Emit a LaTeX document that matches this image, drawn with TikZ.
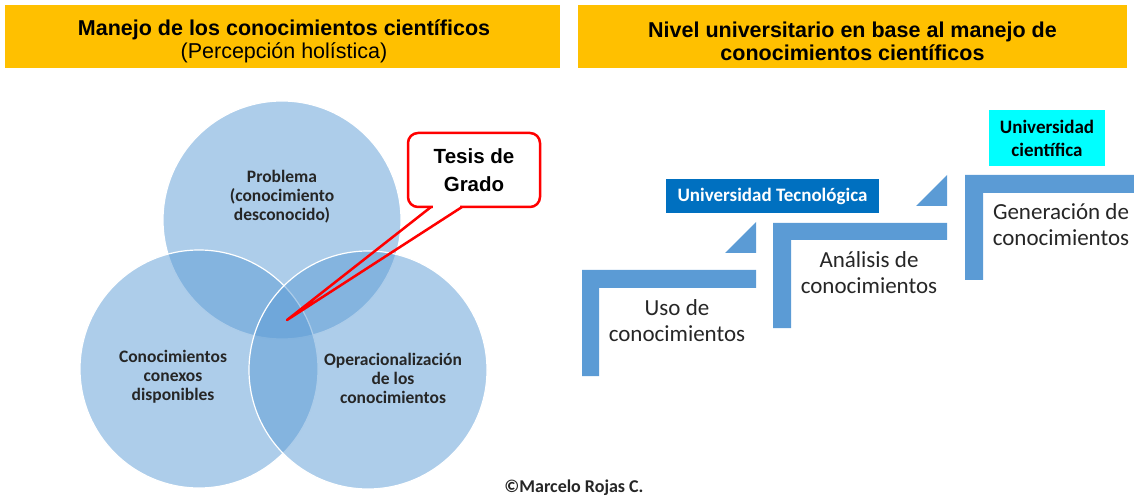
\documentclass[tikz,border=0pt]{standalone}
\usepackage{fontspec}
\setmainfont{Liberation Sans}
\newfontfamily\calfont{Carlito}
\usetikzlibrary{calc}
\definecolor{gold}{HTML}{FFC000}
\definecolor{vennblue}{HTML}{5B9BD5}
\definecolor{stairblue}{HTML}{5B9BD5}
\definecolor{utblue}{HTML}{0070C0}
\definecolor{ucyan}{HTML}{00FFFF}
\definecolor{txt}{HTML}{262626}
\begin{document}
\begin{tikzpicture}[x=1pt,y=-1pt,
  titlebar/.style={fill=gold, minimum height=63pt, inner sep=0pt, outer sep=0pt},
  titletext/.style={inner sep=0pt, align=center, font=\fontsize{21.5}{23}\selectfont},
  venn/.style={circle, minimum size=238pt, inner sep=0pt, fill=vennblue, fill opacity=0.5, draw=white, draw opacity=1, line width=1.2pt},
  venntext/.style={align=center, inner sep=0pt, font=\calfont\bfseries\fontsize{17.5}{19}\selectfont, text=txt},
  stairshape/.style={fill=stairblue},
  steptext/.style={align=center, inner sep=0pt, font=\calfont\fontsize{23}{26}\selectfont, text=txt},
  labelbox/.style={inner sep=0pt, outer sep=0pt, align=center, font=\calfont\bfseries\fontsize{19}{23}\selectfont},
  calloutline/.style={draw=red, line width=2.5pt, line join=round, line cap=round}
]
\useasboundingbox (0,0) rectangle (1134,502);

% title bars
\node[titlebar, minimum width=555pt] (t1) at (282.5,36.5) {};
\node[titlebar, minimum width=549pt] (t2) at (852.5,36.5) {};
\node[titletext] (t1text) at (284,41)
  {\textbf{Manejo de los conocimientos científicos}\\(Percepción holística)};
\node[titletext] (t2text) at (852.5,41)
  {\textbf{Nivel universitario en base al manejo de}\\\textbf{conocimientos científicos}};

% Venn diagram
\node[venn] (ctop) at (282,220) {};
\node[venn] (cleft) at (199,369) {};
\node[venn] (cright) at (368,370) {};

\node[venntext] (ptop) at (282,197) {Problema\\(conocimiento\\desconocido)};
\node[venntext] (pleft) at (173,377) {Conocimientos\\conexos\\disponibles};
\node[venntext] (pright) at (393,378) {Operacionalización\\de los\\conocimientos};

% callout
\node[draw=red, line width=2.5pt, rounded corners=10pt, minimum width=132pt, minimum height=74pt,
      inner sep=0pt, outer sep=0pt, align=center, font=\bfseries\fontsize{20.5}{28}\selectfont] (tesis) at (474,170)
  {Tesis de\\Grado};
\coordinate (tip) at (287,320);
\coordinate (pa) at ($(tesis.south west)+(23,0)$);
\coordinate (pb) at ($(tesis.south west)+(54,0)$);
\draw[white, line width=3.5pt] ($(pa)+(2,0)$) -- ($(pb)+(-2,0)$);
\draw[calloutline] (pa) -- (tip) -- (pb);

% stairs
\fill[stairshape] (582,270) -- (756,270) -- (756,288) -- (599,288) -- (599,376) -- (582,376) -- cycle;
\fill[stairshape] (773,223) -- (947,223) -- (947,240) -- (791,240) -- (791,328) -- (773,328) -- cycle;
\fill[stairshape] (965,175) -- (1134,175) -- (1134,193) -- (983,193) -- (983,280) -- (965,280) -- cycle;
\fill[stairshape] (725,253) -- (756,222) -- (756,253) -- cycle;
\fill[stairshape] (916,206) -- (947,175) -- (947,206) -- cycle;

\node[steptext] (s1) at (677,321) {Uso de\\conocimientos};
\node[steptext] (s2) at (869,273) {Análisis de\\conocimientos};
\node[steptext] (s3) at (1061,225) {Generación de\\conocimientos};

\node[labelbox, fill=utblue, text=white, minimum width=213pt, minimum height=34pt] (ut) at (772.5,196) {Universidad Tecnológica};
\node[labelbox, fill=ucyan, text=black, minimum width=116pt, minimum height=56pt] (uc) at (1047,138) {Universidad\\científica};

\node[inner sep=0pt, font=\calfont\bfseries\fontsize{18}{20}\selectfont, text=txt] (copy) at (574,488) {©Marcelo Rojas C.};
\end{tikzpicture}
\end{document}
